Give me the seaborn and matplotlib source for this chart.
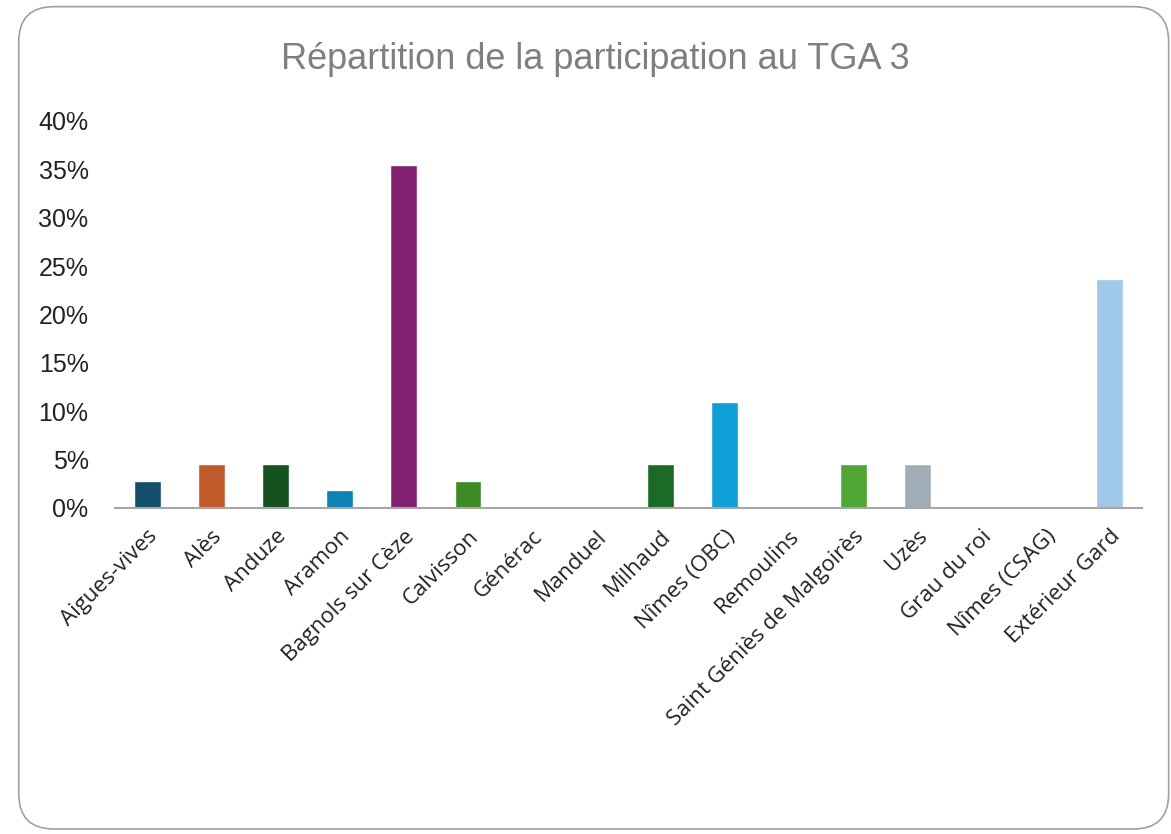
import matplotlib
matplotlib.use("Agg")
import matplotlib.pyplot as plt
from matplotlib.patches import FancyBboxPatch
from matplotlib.ticker import PercentFormatter
import seaborn as sns
import pandas as pd

# participation par club (110 participants)
clubs = ["Aigues-vives", "Alès", "Anduze", "Aramon", "Bagnols sur Cèze",
         "Calvisson", "Générac", "Manduel", "Milhaud", "Nîmes (OBC)",
         "Remoulins", "Saint Géniès de Malgoirès", "Uzès", "Grau du roi",
         "Nîmes (CSAG)", "Extérieur Gard"]
shares = [2.73, 4.55, 4.55, 1.82, 35.45, 2.73, 0.0, 0.0, 4.55, 10.91,
          0.0, 4.55, 4.55, 0.0, 0.0, 23.64]
bar_colors = ["#124E6A", "#C05A2A", "#155220", "#0E82B4", "#832272",
              "#3E8A24", "#888888", "#888888", "#1B6A25", "#10A0D8",
              "#888888", "#4FA632", "#A1ADB7", "#888888", "#888888", "#A0C8E8"]

df = pd.DataFrame({"club": clubs, "part": shares})

sns.set_style("white")
plt.rcParams["font.family"] = ["Liberation Sans", "DejaVu Sans"]

fig = plt.figure(figsize=(11.71, 8.34), dpi=100)
ax = fig.add_axes([0.0982, 0.391, 0.877, 0.464])

sns.barplot(data=df, x="club", y="part", hue="club", palette=bar_colors,
            legend=False, width=0.42, ax=ax, saturation=1)

ax.set_ylim(0, 40)
ax.set_xlim(-0.5, len(clubs) - 0.5)
ax.yaxis.set_major_formatter(PercentFormatter(decimals=0))
ax.set_yticks(range(0, 41, 5))
ax.tick_params(axis="y", labelsize=18, colors="#222222", length=0, pad=19)
ax.tick_params(axis="x", labelsize=16, colors="#222222", length=0, pad=13)
for lab in ax.get_xticklabels():
    lab.set_rotation(45)
    lab.set_ha("right")
    lab.set_rotation_mode("anchor")
    lab.set_fontfamily(["Open Sans", "DejaVu Sans"])
ax.set_xlabel("")
ax.set_ylabel("")
for side in ["top", "right", "left"]:
    ax.spines[side].set_visible(False)
ax.spines["bottom"].set_color("#A6A6A6")
ax.spines["bottom"].set_linewidth(1.5)

fig.text(0.508, 0.929, "Répartition de la participation au TGA 3",
         ha="center", va="center", fontsize=26, color="#7F7F7F")

frame = FancyBboxPatch((0.016, 0.006), 0.982, 0.986,
                       boxstyle="round,pad=0,rounding_size=0.03",
                       transform=fig.transFigure, fill=False,
                       edgecolor="#A0A0A0", linewidth=1.2,
                       mutation_aspect=1171 / 834)
fig.patches.append(frame)

fig.savefig("out.png", dpi=100, facecolor="white")
